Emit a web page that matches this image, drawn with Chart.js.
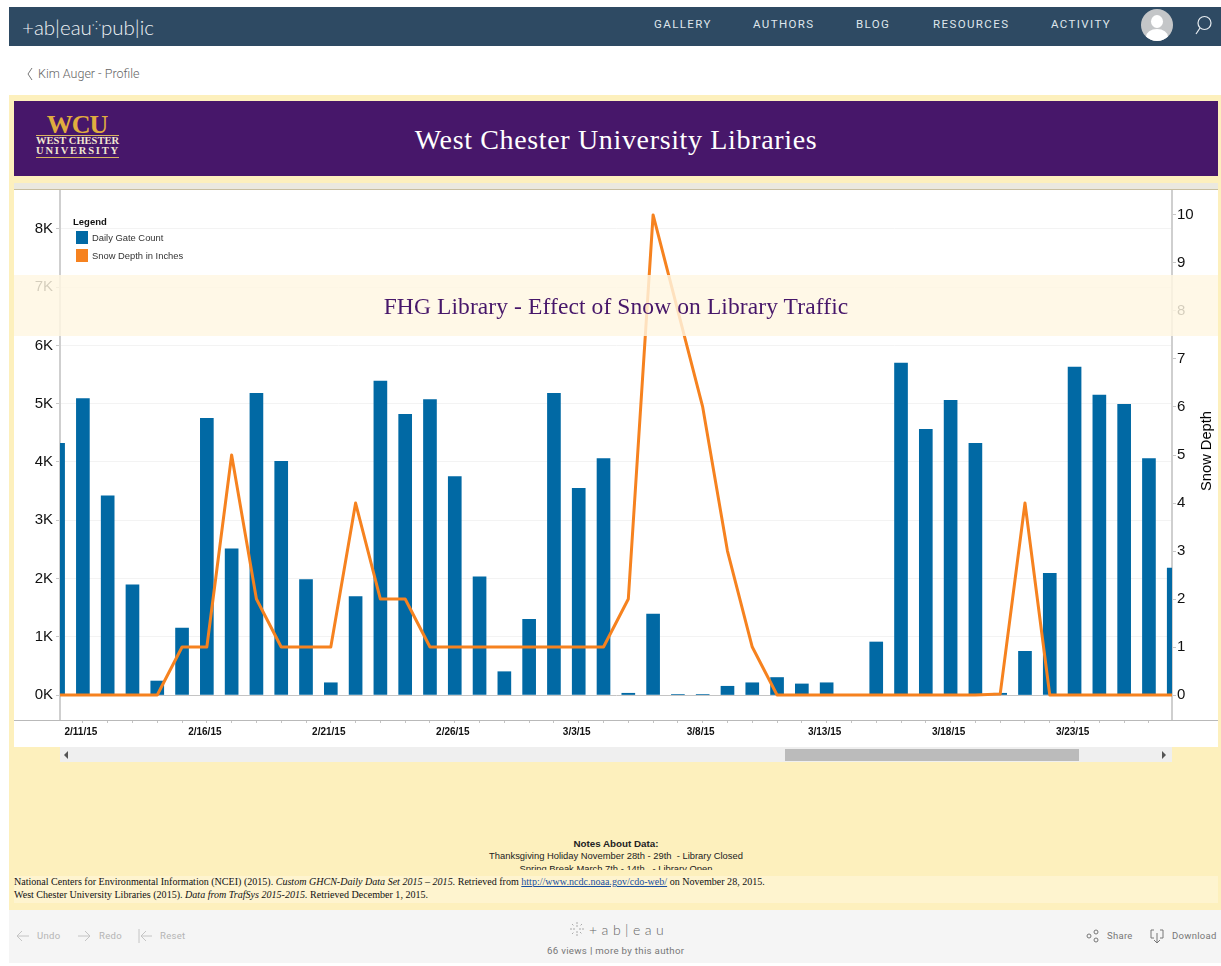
<!DOCTYPE html>
<html>
<head>
<meta charset="utf-8">
<title>FHG Library - Effect of Snow on Library Traffic</title>
<script src="https://cdn.jsdelivr.net/npm/chart.js@4"></script>
<style>
html, body { margin: 0; padding: 0; background: #fff; width: 1221px; height: 966px; overflow: hidden; }
body { position: relative; font-family: "Liberation Sans", Arial, sans-serif; }
.abs { position: absolute; white-space: nowrap; }
.nav { top: 17px; font: 11.5px Roboto, sans-serif; letter-spacing: 1.4px; color: #dfe6ec; line-height: 14px; }
.foot { font: 9.5px Roboto, sans-serif; color: #b4b4b4; letter-spacing: .3px; top: 930px; }
.foot2 { color: #777; }
.cite { left: 14px; font: 10.05px/12px "Liberation Serif", serif; color: #111; }
.swatch { position: absolute; left: 76px; width: 12px; height: 13px; }
.leg { left: 92px; font: 9.4px "Liberation Sans", sans-serif; color: #333; }
svg { position: absolute; overflow: visible; fill: none; }
</style>
</head>
<body>
<!-- top bar -->
<div class="abs" style="left:9px;top:7px;width:1212px;height:39px;background:#2e4a63"></div>
<div class="abs" style="left:22px;top:10px;font:300 20.5px/30px Lato,sans-serif;color:#eef2f5">+ab|eau<span style="font-size:11px;vertical-align:6px">⁘</span>pub|ic</div>
<div class="abs nav" style="left:654px">GALLERY</div>
<div class="abs nav" style="left:753px">AUTHORS</div>
<div class="abs nav" style="left:856px">BLOG</div>
<div class="abs nav" style="left:933px">RESOURCES</div>
<div class="abs nav" style="left:1051px">ACTIVITY</div>
<div class="abs" style="left:1141px;top:9px;width:32px;height:32px;border-radius:50%;background:#c4c6c8;overflow:hidden">
  <div class="abs" style="left:10px;top:6px;width:12px;height:13px;border-radius:50%;background:#fff"></div>
  <div class="abs" style="left:5px;top:20px;width:22px;height:16px;border-radius:50%;background:#fff"></div>
</div>
<svg style="left:1190px;top:14px" width="24" height="24"><circle cx="14.5" cy="9" r="6.5" stroke="#e8edf1" stroke-width="1.2"/><path d="M10 14 L6 20" stroke="#e8edf1" stroke-width="1.2"/></svg>

<svg style="left:26px;top:67px" width="8" height="14"><path d="M6 1 L2 7 L6 13" stroke="#777" stroke-width="1"/></svg>
<div class="abs" style="left:38px;top:66px;font:300 12.5px/16px Roboto,sans-serif;color:#666">Kim Auger - Profile</div>

<!-- dashboard -->
<div class="abs" style="left:9px;top:95px;width:1212px;height:815px;background:#fdf0bd"></div>
<div class="abs" style="left:14px;top:101px;width:1204px;height:75px;background:#47176a"></div>
<div class="abs" style="left:35px;top:114px;width:84px;text-align:center;color:#e0ad3e;font:bold 26px/22px 'Liberation Serif',serif;letter-spacing:-1px">WCU</div>
<div class="abs" style="left:36px;top:135px;width:83px;height:21px;border-top:1px solid #d8b35f;border-bottom:1px solid #d8b35f;text-align:center;color:#f2e6d0;font:bold 10.5px/9.5px 'Liberation Serif',serif">WEST CHESTER<br><span style="letter-spacing:1.8px">UNIVERSITY</span></div>
<div class="abs" style="left:14px;width:1204px;top:123px;text-align:center;color:#fff;font:28px/34px 'Liberation Serif',serif;letter-spacing:.65px">West Chester University Libraries</div>
<div class="abs" style="left:14px;top:183px;width:1204px;height:6px;background:#ebe9df"></div>
<div class="abs" style="left:14px;top:189px;width:1204px;height:1px;background:#c8bfa0"></div>

<!-- chart -->
<div class="abs" style="left:14px;top:190px;width:1204px;height:557px;background:#fff">
  <canvas id="chart" width="1204" height="557"></canvas>
</div>

<!-- legend -->
<div class="abs" style="left:73px;top:216px;font:bold 9.5px/12px 'Liberation Sans',sans-serif;color:#111">Legend</div>
<div class="swatch" style="top:231px;background:#0169a4"></div>
<div class="abs leg" id="leg1" style="top:232px"></div>
<div class="swatch" style="top:249px;background:#f6821f"></div>
<div class="abs leg" id="leg2" style="top:250px"></div>
<div class="abs" id="rightTitle" style="left:1206px;top:451px;transform:translate(-50%,-50%) rotate(-90deg);font:14.7px 'Liberation Sans',sans-serif;color:#000"></div>

<!-- floating title band over the chart -->
<div class="abs" style="left:14px;top:275px;width:1204px;height:61px;background:rgba(255,247,226,.82)"></div>
<div class="abs" style="left:14px;width:1204px;top:291px;text-align:center;color:#47176a;font:23.5px/30px 'Liberation Serif',serif;letter-spacing:.1px">FHG Library - Effect of Snow on Library Traffic</div>

<!-- scrollbar -->
<div class="abs" style="left:60px;top:747px;width:1112px;height:15px;background:#efefef"></div>
<div class="abs" style="left:785px;top:749px;width:294px;height:12px;background:#bbb"></div>
<svg style="left:64px;top:751px" width="6" height="8"><path d="M4 0 L0 4 L4 8 Z" fill="#555"/></svg>
<svg style="left:1162px;top:751px" width="6" height="8"><path d="M0 0 L4 4 L0 8 Z" fill="#555"/></svg>

<!-- notes -->
<div class="abs" style="left:14px;width:1204px;top:838px;height:32px;overflow:hidden;text-align:center;font:9.4px/12.3px 'Liberation Sans',sans-serif;color:#222">
  <b style="font-size:9.8px">Notes About Data:</b><br>Thanksgiving Holiday November 28th - 29th &nbsp;- Library Closed<br>Spring Break March 7th - 14th &nbsp; - Library Open
</div>
<div class="abs" style="left:14px;top:876px;width:1204px;height:27px;background:#fef4cf"></div>
<div class="abs cite" style="top:876px">National Centers for Environmental Information (NCEI) (2015). <i>Custom GHCN-Daily Data Set 2015 – 2015.</i> Retrieved from <span style="color:#1a4fa0;text-decoration:underline">http://www.ncdc.noaa.gov/cdo-web/</span> on November 28, 2015.</div>
<div class="abs cite" style="top:889px">West Chester University Libraries (2015). <i>Data from TrafSys 2015-2015.</i> Retrieved December 1, 2015.</div>

<!-- footer -->
<div class="abs" style="left:9px;top:910px;width:1212px;height:53px;background:#f5f5f5"></div>
<svg style="left:16px;top:930px" width="14" height="12"><path d="M13 6 H1 M6 1 L1 6 L6 11" stroke="#c4c4c4"/></svg>
<div class="abs foot" style="left:37px">Undo</div>
<svg style="left:77px;top:930px" width="14" height="12"><path d="M1 6 H13 M8 1 L13 6 L8 11" stroke="#c4c4c4"/></svg>
<div class="abs foot" style="left:99px">Redo</div>
<svg style="left:138px;top:929px" width="15" height="14"><path d="M1 0 V14 M14 7 H3 M8 2 L3 7 L8 12" stroke="#c4c4c4"/></svg>
<div class="abs foot" style="left:160px">Reset</div>
<svg style="left:569px;top:921px" width="16" height="16"><path d="M8 1 V6 M8 10 V15 M1 8 H6 M10 8 H15 M3 3 L5 5 M11 11 L13 13 M13 3 L11 5 M3 13 L5 11" stroke="#aaa" stroke-dasharray="2 1"/></svg>
<div class="abs" style="left:589px;top:921px;font:300 14px/17px Lato,sans-serif;letter-spacing:4.5px;color:#666">+ab|eau</div>
<div class="abs foot foot2" style="left:547px;top:945px;font-size:9.7px">66 views <b>|</b> more by this author</div>
<svg style="left:1086px;top:929px" width="14" height="14"><circle cx="3" cy="7" r="2" stroke="#777"/><circle cx="10" cy="3" r="2" stroke="#777"/><circle cx="10" cy="11" r="2" stroke="#777"/></svg>
<div class="abs foot foot2" style="left:1107px">Share</div>
<svg style="left:1150px;top:929px" width="14" height="15"><path d="M4 1 H1 V9 H4 M10 1 H13 V9 H10 M7 4 V14 M4 11 L7 14 L10 11" stroke="#777"/></svg>
<div class="abs foot foot2" style="left:1172px">Download</div>

<script>
// Values. Day 0 is 2/10/15, day 45 is 3/27/15
const days = [0,1,2,3,4,5,6,7,8,9,10,11,12,13,14,15,16,17,18,19,20,21,22,23,24,25,26,27,28,29,30,31,32,33,34,35,36,37,38,39,40,41,42,43,44,45];
const gateCount = [4320,5090,3420,1890,240,1150,4750,2510,5180,4010,1980,210,1690,5390,4820,5070,3750,2030,400,1300,5180,3550,4060,30,1390,10,10,150,210,300,190,210,0,910,5700,4560,5060,4320,30,750,2090,5630,5150,4990,4060,2180];
const snowDepth = [0,0,0,0,0,1,1,5,2,1,1,1,4,2,2,1,1,1,1,1,1,1,1,2,10,8,6,3,1,0,0,0,0,0,0,0,0,0,0.02,4,0,0,0,0,0,0];

const tickDays = [1,6,11,16,21,26,31,36,41];
const tickLabels = ['2/11/15','2/16/15','2/21/15','2/26/15','3/3/15','3/8/15','3/13/15','3/18/15','3/23/15'];
const gateTicks = [0,1000,2000,3000,4000,5000,6000,7000,8000];
const snowTicks = [0,1,2,3,4,5,6,7,8,9,10];

const gateLabel = 'Daily Gate Count';
const snowLabel = 'Snow Depth in Inches';
const snowTitle = 'Snow Depth';

document.getElementById('leg1').textContent = gateLabel;
document.getElementById('leg2').textContent = snowLabel;
document.getElementById('rightTitle').textContent = snowTitle;

// axis rule runs the whole width of the white panel, past the plot area
const fullWidthAxis = {
    id: 'fullWidthAxis',
    afterDraw(chart) {
        const c = chart.ctx, y = chart.chartArea.bottom + 0.5;
        c.save();
        c.strokeStyle = '#b9b9b9';
        c.beginPath();
        c.moveTo(0, y);
        c.lineTo(chart.width, y);
        c.stroke();
        c.restore();
    }
};

new Chart(document.getElementById('chart'), {
    type: 'bar',
    plugins: [fullWidthAxis],
    data: {
        datasets: [
            {
                type: 'line',
                label: snowLabel,
                data: days.map((d, i) => ({ x: d, y: snowDepth[i] })),
                yAxisID: 'ySnow',
                borderColor: '#f6821f',
                borderWidth: 3,
                borderJoinStyle: 'round',
                pointRadius: 0,
                tension: 0,
                order: 0
            },
            {
                type: 'bar',
                label: gateLabel,
                data: days.map((d, i) => ({ x: d, y: gateCount[i] })),
                yAxisID: 'yGate',
                backgroundColor: '#0169a4',
                barThickness: 13,
                order: 1
            }
        ]
    },
    options: {
        responsive: false,
        animation: false,
        layout: { padding: 0 },
        plugins: { legend: { display: false }, tooltip: { enabled: false } },
        scales: {
            x: {
                type: 'linear',
                offset: false,
                min: 0.077,
                max: 44.93,
                afterBuildTicks: scale => {
                    scale.ticks = days.filter(d => d >= scale.min && d <= scale.max).map(d => ({ value: d }));
                },
                afterFit: scale => {
                    scale.height = 27;
                    scale.paddingLeft = 0;
                    scale.paddingRight = 0;
                },
                grid: { drawOnChartArea: false, offset: false, tickLength: 3, tickColor: '#c4c4c4' },
                border: { display: false },
                ticks: {
                    autoSkip: false,
                    maxRotation: 0,
                    padding: 3,
                    labelOffset: -2,
                    color: '#111',
                    font: { family: 'Liberation Sans', size: 10, weight: 'bold' },
                    callback: value => {
                        const i = tickDays.indexOf(value);
                        return i >= 0 ? tickLabels[i] : '';
                    }
                }
            },
            yGate: {
                position: 'left',
                min: -429,
                max: 8669,
                afterBuildTicks: scale => { scale.ticks = gateTicks.map(v => ({ value: v })); },
                afterFit: scale => {
                    scale.width = 46;
                    scale.paddingTop = 0;
                    scale.paddingBottom = 0;
                },
                grid: {
                    tickLength: 4,
                    tickColor: '#c8c8c8',
                    color: ctx => (ctx.tick && ctx.tick.value === 0 ? '#c4c4c4' : '#f3f3f3')
                },
                border: { color: '#cfcfcf', width: 2 },
                ticks: {
                    padding: 3,
                    color: '#111',
                    font: { family: 'Liberation Sans', size: 15 },
                    callback: value => (value / 1000) + 'K'
                }
            },
            ySnow: {
                position: 'right',
                min: -0.52,
                max: 10.52,
                afterBuildTicks: scale => { scale.ticks = snowTicks.map(v => ({ value: v })); },
                afterFit: scale => {
                    scale.width = 46;
                    scale.paddingTop = 0;
                    scale.paddingBottom = 0;
                },
                grid: { drawOnChartArea: false, tickLength: 4, tickColor: '#c8c8c8' },
                border: { color: '#cfcfcf', width: 2 },
                ticks: {
                    padding: 1,
                    color: '#111',
                    font: { family: 'Liberation Sans', size: 15 }
                }
            }
        }
    }
});
</script>
</body>
</html>
